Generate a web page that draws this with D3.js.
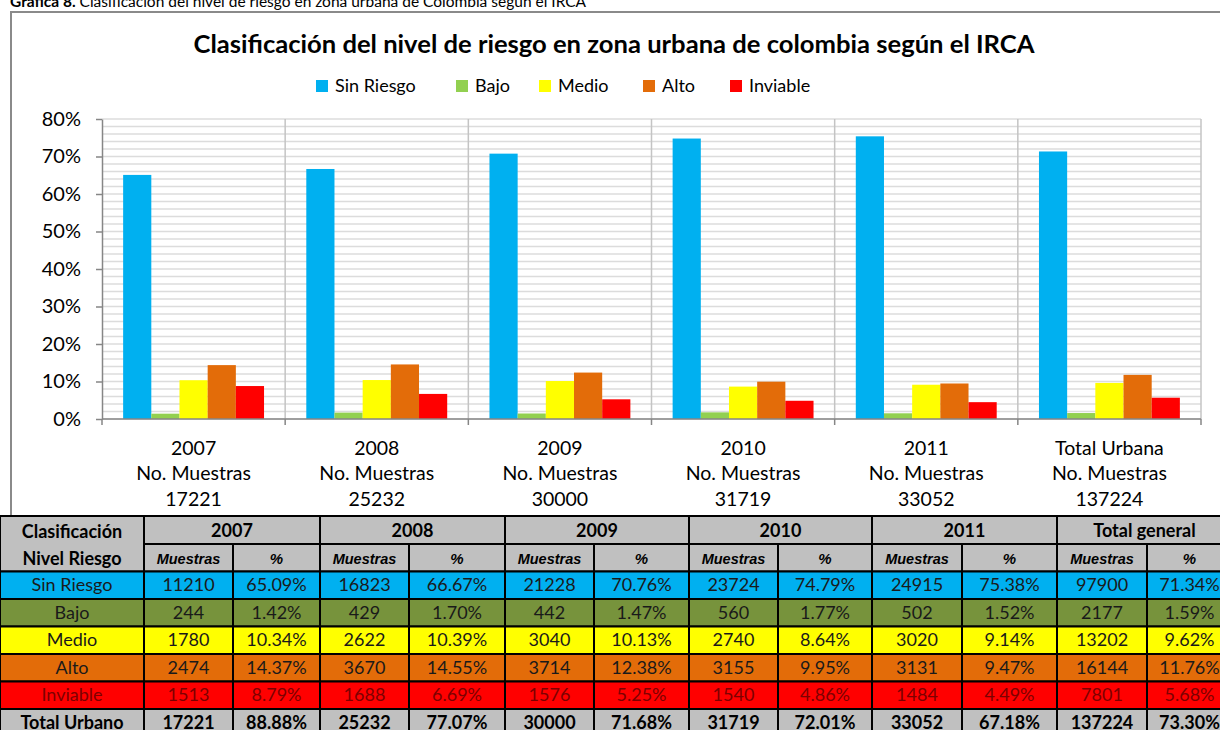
<!DOCTYPE html>
<html>
<head>
<meta charset="utf-8">
<script src="https://cdnjs.cloudflare.com/ajax/libs/d3/7.8.5/d3.min.js"></script>
<style>
  body { margin: 0; background: #fff; }
  svg { display: block; font-family: Lato, 'Open Sans', sans-serif; }
</style>
</head>
<body>
<svg id="chart" width="1220" height="730"></svg>
<script>
'use strict';

// data
var categories = ['2007', '2008', '2009', '2010', '2011', 'Total Urbana'];
var tableYears = ['2007', '2008', '2009', '2010', '2011', 'Total general'];
var totalMuestras = [17221, 25232, 30000, 31719, 33052, 137224];
var totalPct = [88.88, 77.07, 71.68, 72.01, 67.18, 73.30];
var seriesNames = ['Sin Riesgo', 'Bajo', 'Medio', 'Alto', 'Inviable'];

var sinRiesgoMuestras = [11210, 16823, 21228, 23724, 24915, 97900];
var sinRiesgoPct = [65.09, 66.67, 70.76, 74.79, 75.38, 71.34];
var bajoMuestras = [244, 429, 442, 560, 502, 2177];
var bajoPct = [1.42, 1.70, 1.47, 1.77, 1.52, 1.59];
var medioMuestras = [1780, 2622, 3040, 2740, 3020, 13202];
var medioPct = [10.34, 10.39, 10.13, 8.64, 9.14, 9.62];
var altoMuestras = [2474, 3670, 3714, 3155, 3131, 16144];
var altoPct = [14.37, 14.55, 12.38, 9.95, 9.47, 11.76];
var inviableMuestras = [1513, 1688, 1576, 1540, 1484, 7801];
var inviablePct = [8.79, 6.69, 5.25, 4.86, 4.49, 5.68];

var yTicks = [0, 10, 20, 30, 40, 50, 60, 70, 80];

// styles
var barColors = ['#00B0F0', '#92D050', '#FFFF00', '#E36C09', '#FF0000'];
var rowColors = ['#00B0F0', '#77933C', '#FFFF00', '#E36C09', '#FF0000'];
var rowTextColors = ['#1a1a1a', '#1a1a1a', '#1a1a1a', '#1a1a1a', '#7d0000'];

var series = seriesNames.map(function(name, i) {
  return {
    name: name,
    muestras: [sinRiesgoMuestras, bajoMuestras, medioMuestras, altoMuestras, inviableMuestras][i],
    pct: [sinRiesgoPct, bajoPct, medioPct, altoPct, inviablePct][i],
    color: barColors[i],
    rowColor: rowColors[i],
    textColor: rowTextColors[i]
  };
});

var svg = d3.select('#chart');

function fmtPct(v) {
  return v.toFixed(2) + '%';
}

// caption above the chart box (cut off by the page top, as in the source)
var caption = svg.append('text')
  .attr('x', 10)
  .attr('y', 7)
  .attr('font-size', 15.5)
  .attr('fill', '#000');
caption.append('tspan').attr('font-weight', 'bold').text('Grafica 8.');
caption.append('tspan').text(' Clasificación del nivel de riesgo en zona urbana de Colombia según el IRCA');

// chart box
svg.append('rect')
  .attr('x', 11)
  .attr('y', 12)
  .attr('width', 1230)
  .attr('height', 520)
  .attr('fill', '#fff')
  .attr('stroke', '#8a8a8a')
  .attr('stroke-width', 2);

svg.append('text')
  .attr('x', 614)
  .attr('y', 53)
  .attr('text-anchor', 'middle')
  .attr('font-size', 25.6)
  .attr('font-weight', 'bold')
  .attr('fill', '#000')
  .text('Clasificación del nivel de riesgo en zona urbana de colombia según el IRCA');

// legend
var legendX = [316, 456, 539, 643, 730];
var legend = svg.append('g').selectAll('g')
  .data(series)
  .enter().append('g')
  .attr('transform', function(d, i) { return 'translate(' + legendX[i] + ',80)'; });
legend.append('rect')
  .attr('width', 12)
  .attr('height', 12)
  .attr('fill', function(d) { return d.color; });
legend.append('text')
  .attr('x', 19)
  .attr('y', 12)
  .attr('font-size', 18)
  .attr('fill', '#000')
  .text(function(d) { return d.name; });

// plot
var plotLeft = 102, plotRight = 1201, plotTop = 119, plotBottom = 419;

var x = d3.scaleBand()
  .domain(categories)
  .range([plotLeft, plotRight])
  .padding(0);

var xs = d3.scaleBand()
  .domain(seriesNames)
  .range([0, x.bandwidth()])
  .paddingInner(0)
  .paddingOuter(0.75);

var y = d3.scaleLinear()
  .domain([0, 80])
  .range([plotBottom, plotTop]);

// minor gridlines every 2%
svg.append('g').selectAll('line')
  .data(y.ticks(40))
  .enter().append('line')
  .attr('x1', plotLeft)
  .attr('x2', plotRight)
  .attr('y1', function(d) { return y(d); })
  .attr('y2', function(d) { return y(d); })
  .attr('stroke', '#dcdcdc')
  .attr('stroke-width', 1.5);

// category dividers
var edges = categories.slice(1).map(function(c) { return x(c); }).concat([plotRight]);
svg.append('g').selectAll('line')
  .data(edges)
  .enter().append('line')
  .attr('x1', function(d) { return d; })
  .attr('x2', function(d) { return d; })
  .attr('y1', plotTop)
  .attr('y2', plotBottom)
  .attr('stroke', '#c4c4c4')
  .attr('stroke-width', 1.5);

// bars
var groups = svg.append('g').selectAll('g')
  .data(categories)
  .enter().append('g')
  .attr('transform', function(c) { return 'translate(' + x(c) + ',0)'; });

groups.selectAll('rect')
  .data(function(c, i) {
    return series.map(function(s) { return {name: s.name, value: s.pct[i], color: s.color}; });
  })
  .enter().append('rect')
  .attr('x', function(d) { return xs(d.name); })
  .attr('width', xs.bandwidth())
  .attr('y', function(d) { return y(d.value); })
  .attr('height', function(d) { return plotBottom - y(d.value); })
  .attr('fill', function(d) { return d.color; });

// y axis
var yAxis = svg.append('g')
  .attr('transform', 'translate(' + plotLeft + ',0)')
  .call(d3.axisLeft(y)
    .tickValues(yTicks)
    .tickFormat(function(d) { return d + '%'; })
    .tickSize(6)
    .tickSizeOuter(0)
    .tickPadding(15));
yAxis.select('.domain').attr('stroke', '#868686').attr('stroke-width', 1.5);
yAxis.selectAll('.tick line').attr('stroke', '#868686').attr('stroke-width', 1.5);
yAxis.selectAll('.tick text')
  .attr('font-family', 'Lato, sans-serif')
  .attr('font-size', 20)
  .attr('fill', '#000');

// x axis line and ticks at category edges
svg.append('line')
  .attr('x1', plotLeft)
  .attr('x2', plotRight)
  .attr('y1', plotBottom)
  .attr('y2', plotBottom)
  .attr('stroke', '#868686')
  .attr('stroke-width', 1.5);
svg.append('g').selectAll('line')
  .data([plotLeft].concat(edges))
  .enter().append('line')
  .attr('x1', function(d) { return d; })
  .attr('x2', function(d) { return d; })
  .attr('y1', plotBottom)
  .attr('y2', plotBottom + 6)
  .attr('stroke', '#868686')
  .attr('stroke-width', 1.5);

var xLabels = svg.append('g').selectAll('text')
  .data(categories)
  .enter().append('text')
  .attr('text-anchor', 'middle')
  .attr('font-size', 19.5)
  .attr('fill', '#000');
xLabels.append('tspan')
  .attr('x', function(c) { return x(c) + x.bandwidth() / 2; })
  .attr('y', 455)
  .text(function(c) { return c; });
xLabels.append('tspan')
  .attr('x', function(c) { return x(c) + x.bandwidth() / 2; })
  .attr('y', 480)
  .text('No. Muestras');
xLabels.append('tspan')
  .attr('x', function(c) { return x(c) + x.bandwidth() / 2; })
  .attr('y', 506)
  .text(function(c, i) { return totalMuestras[i]; });

// table
var colEdges = [0, 144, 233, 320, 409, 505, 594, 689, 778, 872, 962, 1057, 1147, 1232];
var rowEdges = [516, 544, 571.5, 599, 626.5, 654, 681.5, 709, 736.5];
var headerFill = '#c0c0c0';
var table = svg.append('g');

function cell(x0, x1, y0, y1, fill) {
  table.append('rect')
    .attr('x', x0)
    .attr('y', y0)
    .attr('width', x1 - x0 + (x1 === colEdges[colEdges.length - 1] ? 10 : 0))
    .attr('height', y1 - y0)
    .attr('fill', fill)
    .attr('stroke', '#000')
    .attr('stroke-width', 2);
}

function cellText(x0, x1, y0, y1, text, opts) {
  opts = opts || {};
  table.append('text')
    .attr('x', (x0 + x1) / 2)
    .attr('y', (y0 + y1) / 2 + (opts.dy || 6))
    .attr('text-anchor', 'middle')
    .attr('font-family', opts.family || 'Lato, sans-serif')
    .attr('font-size', opts.size || 18)
    .attr('font-weight', opts.bold ? 'bold' : 'normal')
    .attr('font-style', opts.italic ? 'italic' : 'normal')
    .attr('fill', opts.color || '#1a1a1a')
    .text(text);
}

// header rows
cell(colEdges[0], colEdges[1], rowEdges[0], rowEdges[2], headerFill);
table.append('text')
  .attr('text-anchor', 'middle')
  .attr('font-size', 18)
  .attr('font-weight', 'bold')
  .attr('fill', '#000')
  .call(function(t) {
    t.append('tspan').attr('x', (colEdges[0] + colEdges[1]) / 2).attr('y', 538).text('Clasificación');
    t.append('tspan').attr('x', (colEdges[0] + colEdges[1]) / 2).attr('y', 565).text('Nivel Riesgo');
  });

tableYears.forEach(function(yr, i) {
  var a = colEdges[1 + i * 2], b = colEdges[2 + i * 2], c = colEdges[3 + i * 2];
  cell(a, c, rowEdges[0], rowEdges[1], headerFill);
  cellText(a, c, rowEdges[0], rowEdges[1], yr, {bold: true, size: 18, color: '#000', dy: 7});
  cell(a, b, rowEdges[1], rowEdges[2], headerFill);
  cell(b, c, rowEdges[1], rowEdges[2], headerFill);
  cellText(a, b, rowEdges[1], rowEdges[2], 'Muestras',
    {bold: true, italic: true, size: 14.5, color: '#000', family: "'Liberation Sans', Arial, sans-serif"});
  cellText(b, c, rowEdges[1], rowEdges[2], '%',
    {bold: true, italic: true, size: 15, color: '#000', family: "'Liberation Sans', Arial, sans-serif"});
});

// series rows
series.forEach(function(s, r) {
  var y0 = rowEdges[2 + r], y1 = rowEdges[3 + r];
  cell(colEdges[0], colEdges[1], y0, y1, s.rowColor);
  cellText(colEdges[0], colEdges[1], y0, y1, s.name, {color: s.textColor});
  tableYears.forEach(function(yr, i) {
    var a = colEdges[1 + i * 2], b = colEdges[2 + i * 2], c = colEdges[3 + i * 2];
    cell(a, b, y0, y1, s.rowColor);
    cellText(a, b, y0, y1, s.muestras[i], {color: s.textColor});
    cell(b, c, y0, y1, s.rowColor);
    cellText(b, c, y0, y1, fmtPct(s.pct[i]), {color: s.textColor});
  });
});

// total row (bottom half falls below the page, as in the source)
var ty0 = rowEdges[7], ty1 = rowEdges[8];
cell(colEdges[0], colEdges[1], ty0, ty1, headerFill);
cellText(colEdges[0], colEdges[1], ty0, ty1, 'Total Urbano', {bold: true, color: '#000'});
tableYears.forEach(function(yr, i) {
  var a = colEdges[1 + i * 2], b = colEdges[2 + i * 2], c = colEdges[3 + i * 2];
  cell(a, b, ty0, ty1, headerFill);
  cellText(a, b, ty0, ty1, totalMuestras[i], {bold: true, color: '#000'});
  cell(b, c, ty0, ty1, headerFill);
  cellText(b, c, ty0, ty1, fmtPct(totalPct[i]), {bold: true, color: '#000'});
});
</script>
</body>
</html>
